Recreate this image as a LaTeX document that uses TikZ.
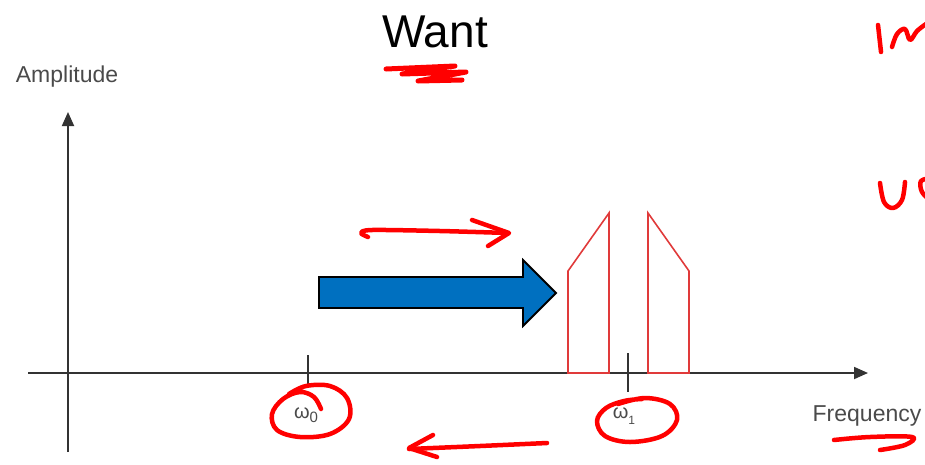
\documentclass[tikz,border=0pt]{standalone}
\usepackage{fontspec}
\setmainfont{Liberation Sans}
\usetikzlibrary{arrows.meta}
\definecolor{axisgray}{HTML}{333333}
\definecolor{labelgray}{HTML}{4A4A4A}
\definecolor{inkred}{HTML}{FF0000}
\definecolor{bandred}{HTML}{E03A3A}
\definecolor{shiftblue}{HTML}{0070C0}
\begin{document}
\begin{tikzpicture}[x=1pt,y=-1pt,
  axisline/.style={draw=axisgray, line width=1.8, -{Triangle[length=14,width=12]}},
  tickline/.style={draw=axisgray, line width=1.8},
  band/.style={draw=bandred, line width=1.6, line join=miter},
  ink/.style={draw=inkred, line width=4.5, line cap=round, line join=round},
  lbl/.style={text=labelgray, font=\fontsize{23}{25}\selectfont, inner sep=0pt},
  sublbl/.style={text=labelgray, font=\fontsize{20}{22}\selectfont, inner sep=0pt},
  bigarrow/.style={fill=shiftblue, draw=black, line width=1.8, line join=miter}]
\useasboundingbox (0,0) rectangle (925,464);

% axes
\coordinate (xstart) at (28,373);
\coordinate (xend) at (868,373);
\coordinate (ystart) at (68,452);
\coordinate (yend) at (68,112);
\draw[axisline] (xstart) -- (xend);
\draw[axisline] (ystart) -- (yend);

% frequency ticks
\coordinate (t0a) at (308,355); \coordinate (t0b) at (308,388);
\coordinate (t1a) at (628,353); \coordinate (t1b) at (628,392);
\draw[tickline] (t0a) -- (t0b);
\draw[tickline] (t1a) -- (t1b);

% shifted spectrum bands
\draw[band] (568,373) -- (568,271) -- (609,213) -- (609,373) -- cycle;
\draw[band] (648,373) -- (648,213) -- (689,271) -- (689,373) -- cycle;

% block arrow
\draw[bigarrow] (319,277) -- (523,277) -- (523,260) -- (556,293) -- (523,326) -- (523,308) -- (319,308) -- cycle;

% labels
\node[font=\fontsize{46}{50}\selectfont, anchor=base, inner sep=0pt] (want) at (435,47) {Want};
\node[lbl, anchor=base] (amp) at (67,82) {Amplitude};
\node[lbl, anchor=base] (freq) at (867,421) {Frequency};
\node[sublbl, anchor=base] (w0) at (306,418) {ω\raisebox{-4pt}{\fontsize{15}{16}\selectfont 0}};
\node[sublbl, anchor=base] (w1) at (624,418) {ω\raisebox{-6pt}{\fontsize{12}{13}\selectfont 1}};

% handwritten annotations
\draw[ink, line width=5] (386,69) -- (455,66) -- (402,74) -- (466,72) -- (418,81) -- (462,80);
\draw[ink] plot[smooth, tension=0.6] coordinates {(834,440) (870,437) (912,437) (905,445) (880,450)};
\draw[ink] plot[smooth, tension=0.6] coordinates {(321,409) (314,397) (300,392) (283,399) (272,414) (277,430) (300,437) (330,434) (349,419) (347,398) (330,386) (306,386) (289,394)};
\draw[ink] plot[smooth, tension=0.6] coordinates {(618,404) (645,398) (670,404) (677,420) (662,436) (630,442) (605,436) (597,421) (606,408) (624,401) (642,399)};
\draw[ink] plot[smooth, tension=0.5] coordinates {(368,237) (361,233) (372,230) (440,231) (508,233)};
\draw[ink] (472,220) -- (509,233) -- (488,246);
\draw[ink] plot[smooth, tension=0.5] coordinates {(547,443) (480,446) (409,449)};
\draw[ink] (433,435) -- (409,448) -- (437,457);
\draw[ink] (878,25) -- (881,52);
\draw[ink] plot[smooth, tension=0.6] coordinates {(892,47) (897,34) (905,29) (910,40) (917,31) (926,24)};
\draw[ink] plot[smooth, tension=0.6] coordinates {(880,183) (884,202) (893,208) (902,200) (905,182)};
\draw[ink] plot[smooth, tension=0.6] coordinates {(932,178) (921,181) (922,192) (930,200)};
\end{tikzpicture}
\end{document}
